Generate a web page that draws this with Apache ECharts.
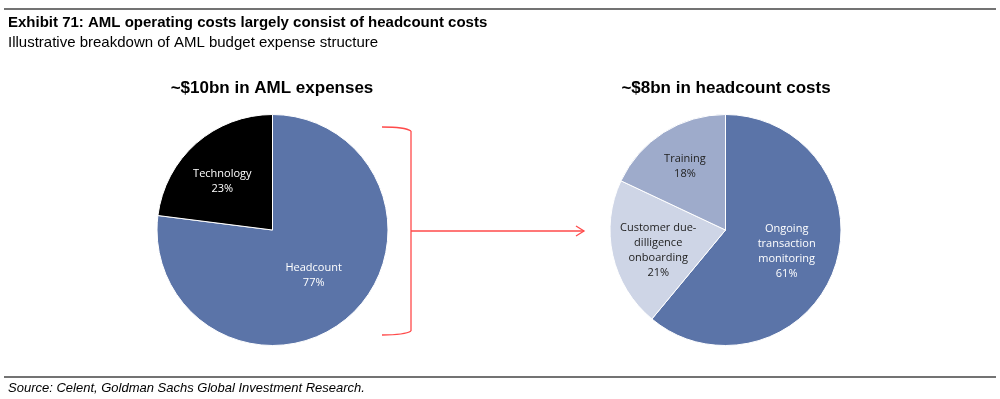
<!DOCTYPE html>
<html>
<head>
<meta charset="utf-8">
<script src="https://cdn.jsdelivr.net/npm/echarts@6/dist/echarts.min.js"></script>
<style>
html,body{margin:0;padding:0;background:#fff;}
#c{width:1000px;height:399px;}
</style>
</head>
<body>
<div id="c"></div>
<script>
// ---- data ----
const leftCategories = ['Headcount', 'Technology'];
const leftValues = [77, 23];
const rightCategories = ['Ongoing\ntransaction\nmonitoring', 'Customer due-\ndilligence\nonboarding', 'Training'];
const rightValues = [61, 21, 18];
const titleText = 'Exhibit 71: AML operating costs largely consist of headcount costs';
const subtitleText = 'Illustrative breakdown of AML budget expense structure';
const leftTitle = '~$10bn in AML expenses';
const rightTitle = '~$8bn in headcount costs';
const sourceText = 'Source: Celent, Goldman Sachs Global Investment Research.';

// ---- styles ----
const leftColors = ['#5b74a8', '#000000'];
const rightColors = ['#5b74a8', '#ced5e6', '#9eabcb'];
const leftLabelColors = ['#ffffff', '#ffffff'];
const rightLabelColors = ['#ffffff', '#222222', '#222222'];
const leftOffsets = [[1, 0], [-10, -3]];
const rightOffsets = [[4, 1], [-8, 7], [-8, -12]];

function buildData(cats, vals, colors, labelColors, offsets) {
  return cats.map((c, i) => ({
    name: c,
    value: vals[i],
    itemStyle: { color: colors[i] },
    label: { color: labelColors[i], offset: offsets[i] }
  }));
}

const labelBase = {
  show: true,
  position: 'inside',
  formatter: p => p.name + '\n' + p.value + '%',
  fontFamily: 'Open Sans',
  fontSize: 11,
  lineHeight: 15,
  align: 'center'
};

const chart = echarts.init(document.getElementById('c'), null, { renderer: 'canvas' });
const red = '#ff4a4a';
const tStyle = (size, weight, style) => ({ fontFamily: 'Liberation Sans', fontWeight: weight, fontStyle: style || 'normal', fontSize: size, color: '#000' });
chart.setOption({
  animation: false,
  title: [
    { text: titleText, left: 8, top: 15, padding: 0, textStyle: tStyle(15, 'bold') },
    { text: subtitleText, left: 8, top: 35, padding: 0, textStyle: tStyle(15, 'normal') },
    { text: leftTitle, left: 272, top: 80, padding: 0, textAlign: 'center', textStyle: tStyle(17, 'bold') },
    { text: rightTitle, left: 726, top: 80, padding: 0, textAlign: 'center', textStyle: tStyle(17, 'bold') },
    { text: sourceText, left: 8, top: 382, padding: 0, textStyle: tStyle(13, 'normal', 'italic') }
  ],
  graphic: [
    { type: 'line', shape: { x1: 4, y1: 9, x2: 996, y2: 9 }, style: { stroke: '#444', lineWidth: 1.5 } },
    { type: 'line', shape: { x1: 4, y1: 377, x2: 996, y2: 377 }, style: { stroke: '#444', lineWidth: 1.5 } },
    { type: 'bezierCurve', shape: { x1: 382, y1: 127, cpx1: 405, cpy1: 127, x2: 411, y2: 131 }, style: { stroke: red, lineWidth: 1.3, fill: null } },
    { type: 'line', shape: { x1: 411, y1: 131, x2: 411, y2: 331 }, style: { stroke: red, lineWidth: 1.3 } },
    { type: 'bezierCurve', shape: { x1: 411, y1: 331, cpx1: 405, cpy1: 335, x2: 382, y2: 335 }, style: { stroke: red, lineWidth: 1.3, fill: null } },
    { type: 'line', shape: { x1: 411, y1: 231, x2: 584, y2: 231 }, style: { stroke: red, lineWidth: 1.3 } },
    { type: 'polyline', shape: { points: [[576, 226], [584, 231], [576, 236]] }, style: { stroke: red, lineWidth: 1.3, fill: null } }
  ],
  series: [
    {
      type: 'pie',
      center: [272.5, 230],
      radius: [0, 115.5],
      startAngle: 90,
      clockwise: true,
      silent: true,
      itemStyle: { borderColor: '#ffffff', borderWidth: 1 },
      label: labelBase,
      labelLine: { show: false },
      data: buildData(leftCategories, leftValues, leftColors, leftLabelColors, leftOffsets)
    },
    {
      type: 'pie',
      center: [725.5, 230],
      radius: [0, 115.5],
      startAngle: 90,
      clockwise: true,
      silent: true,
      itemStyle: { borderColor: '#ffffff', borderWidth: 1 },
      label: labelBase,
      labelLine: { show: false },
      data: buildData(rightCategories, rightValues, rightColors, rightLabelColors, rightOffsets)
    }
  ]
});
</script>
</body>
</html>
